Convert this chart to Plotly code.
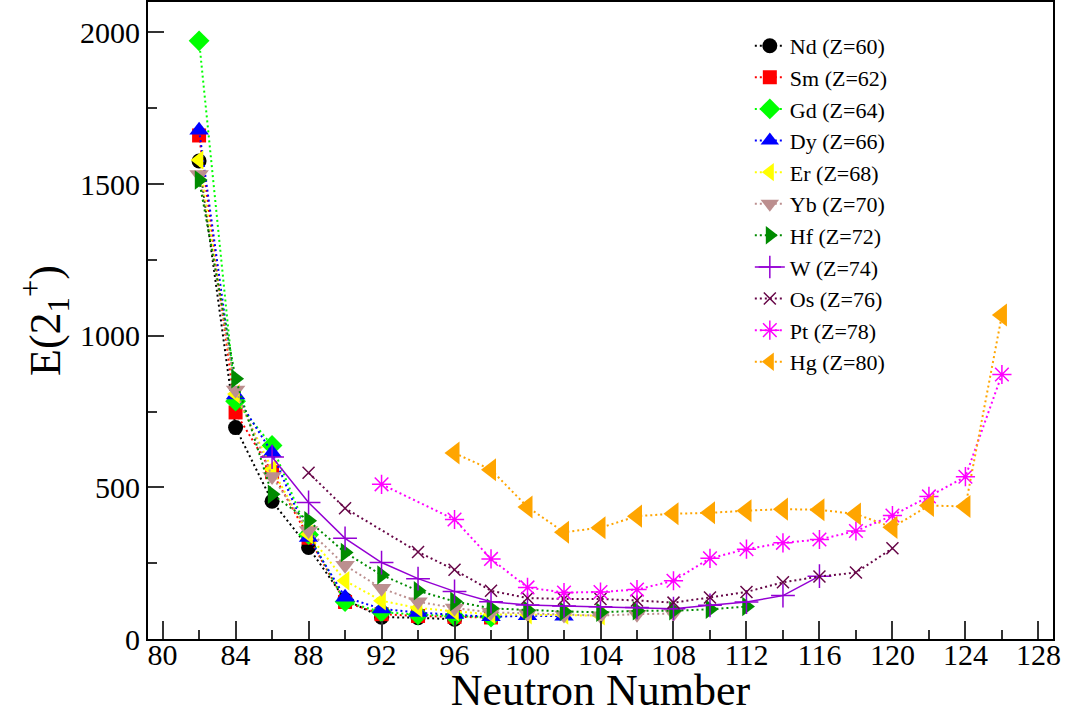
import plotly.graph_objects as go

# ---------------- data ----------------
nd_N = [82, 84, 86, 88, 90, 92, 94, 96]
nd_E = [1576, 697, 454, 302, 130, 72, 70, 65]

sm_N = [82, 84, 86, 88, 90, 92, 94, 96, 98]
sm_E = [1660, 747, 550, 334, 122, 82, 76, 73, 71]

gd_N = [82, 84, 86, 88, 90, 92, 94, 96, 98]
gd_E = [1972, 784, 638, 344, 123, 89, 80, 75, 72]

dy_N = [82, 84, 86, 88, 90, 92, 94, 96, 98, 100, 102]
dy_E = [1677, 804, 614, 335, 138, 99, 87, 81, 73, 77, 75]

er_N = [82, 84, 86, 88, 90, 92, 94, 96, 98, 100, 102, 104]
er_E = [1579, 808, 560, 345, 192, 126, 102, 91, 81, 80, 79, 77]

yb_N = [82, 84, 86, 88, 90, 92, 94, 96, 98, 100, 102, 104, 106, 108]
yb_E = [1531, 821, 536, 358, 243, 167, 123, 102, 88, 84, 79, 77, 82, 84]

hf_N = [82, 84, 86, 88, 90, 92, 94, 96, 98, 100, 102, 104, 106, 108, 110, 112]
hf_E = [1513, 858, 477, 390, 285, 211, 159, 124, 101, 95, 91, 88, 93, 93, 98, 107]

w_N = [86, 88, 90, 92, 94, 96, 98, 100, 102, 104, 106, 108, 110, 112, 114, 116]
w_E = [600, 450, 332, 252, 199, 157, 123, 112, 109, 106, 104, 100, 111, 122, 143, 207]

os_N = [88, 90, 94, 96, 98, 100, 102, 104, 106, 108, 110, 112, 114, 116, 118, 120]
os_E = [548, 431, 287, 228, 159, 135, 132, 132, 127, 120, 137, 155, 187, 206, 219, 299]

pt_N = [92, 96, 98, 100, 102, 104, 106, 108, 110, 112, 114, 116, 118, 120, 122, 124, 126]
pt_E = [510, 394, 264, 170, 153, 155, 163, 192, 266, 296, 317, 328, 356, 407, 470, 535, 872]

hg_N = [96, 98, 100, 102, 104, 106, 108, 110, 112, 114, 116, 118, 120, 122, 124, 126]
hg_E = [613, 558, 435, 352, 367, 405, 413, 416, 423, 428, 426, 412, 368, 440, 437, 1068]

x_ticks = [80, 84, 88, 92, 96, 100, 104, 108, 112, 116, 120, 124, 128]
y_ticks = [0, 500, 1000, 1500, 2000]
x_title = "Neutron Number"
y_title = "E(2<sub>1</sub><sup>+</sup>)"

# ---------------- style ----------------
FONT = "Liberation Serif"
DOT = "2px,3px"

series = [
    ("Nd (Z=60)", nd_N, nd_E, "black", "circle", 15, DOT, 0),
    ("Sm (Z=62)", sm_N, sm_E, "#ff0000", "square", 14, DOT, 0),
    ("Gd (Z=64)", gd_N, gd_E, "#00ff00", "diamond", 16, DOT, 0),
    ("Dy (Z=66)", dy_N, dy_E, "#0000ff", "triangle-up", 17, DOT, 0),
    ("Er (Z=68)", er_N, er_E, "#ffff00", "triangle-left", 17, DOT, 0),
    ("Yb (Z=70)", yb_N, yb_E, "#bc8f8f", "triangle-down", 17, DOT, 0),
    ("Hf (Z=72)", hf_N, hf_E, "#008b00", "triangle-right", 17, DOT, 0),
    ("W (Z=74)", w_N, w_E, "#9400d3", "cross-thin", 17, "solid", 1.5),
    ("Os (Z=76)", os_N, os_E, "#670748", "x-thin", 12, DOT, 1.5),
    ("Pt (Z=78)", pt_N, pt_E, "#ff00ff", "asterisk-open", 16, DOT, 1.5),
    ("Hg (Z=80)", hg_N, hg_E, "#ffa500", "triangle-left", 20, DOT, 0),
]

fig = go.Figure()
for name, xs, ys, color, sym, size, dash, mlw in series:
    fig.add_trace(go.Scatter(
        x=xs, y=ys, name=name, mode="lines+markers",
        line=dict(color=color, width=2 if dash != "solid" else 1.5, dash=dash),
        marker=dict(symbol=sym, size=size, color=color,
                    line=dict(color=color, width=mlw)),
    ))

fig.update_layout(
    width=1067, height=715,
    margin=dict(l=148, r=14, t=2, b=76),
    paper_bgcolor="white", plot_bgcolor="white",
    font=dict(family=FONT, color="black"),
    showlegend=True,
    legend=dict(
        x=0.665, xanchor="left", y=0.964, yanchor="top",
        font=dict(family=FONT, size=22, color="black"),
        bgcolor="rgba(0,0,0,0)", borderwidth=0,
        itemwidth=30, tracegroupgap=0,
    ),
)

fig.update_xaxes(
    range=[79.2, 128.8], tickmode="array", tickvals=x_ticks,
    ticktext=[str(v) for v in x_ticks],
    ticks="inside", ticklen=18, tickwidth=2, tickcolor="#333",
    minor=dict(dtick=2, tick0=80, ticks="inside", ticklen=9, tickwidth=2, tickcolor="#333"),
    showline=True, linecolor="black", linewidth=2, mirror=True,
    showgrid=False, zeroline=False,
    tickfont=dict(family=FONT, size=30),
    ticklabelstandoff=-12,
    title=dict(text=x_title, font=dict(family=FONT, size=44)),
    automargin=False,
)
fig.update_yaxes(
    range=[0, 2100], tickmode="array", tickvals=y_ticks,
    ticktext=[str(v) for v in y_ticks],
    ticks="inside", ticklen=16, tickwidth=2, tickcolor="#333",
    minor=dict(dtick=250, tick0=0, ticks="inside", ticklen=9, tickwidth=2, tickcolor="#333"),
    showline=True, linecolor="black", linewidth=2, mirror=True,
    showgrid=False, zeroline=False,
    tickfont=dict(family=FONT, size=30),
    title=dict(text=y_title, font=dict(family=FONT, size=44), standoff=6),
    automargin=False,
)

fig.write_html("out.html", config={"displayModeBar": False},
               post_script="document.body.style.margin='0';")
